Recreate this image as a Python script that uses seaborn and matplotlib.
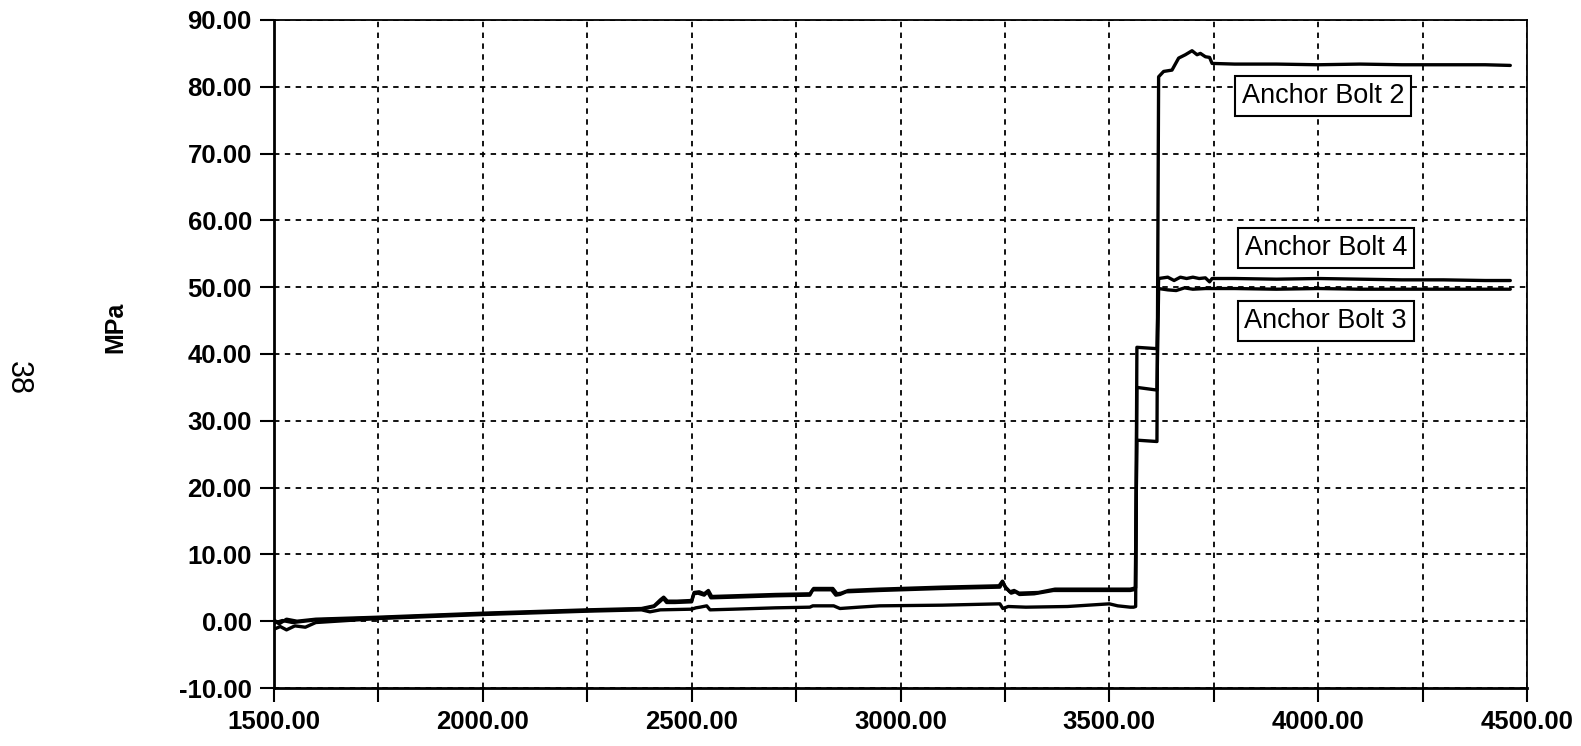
import numpy as np
import pandas as pd
import matplotlib
matplotlib.use("Agg")
import matplotlib.pyplot as plt
import seaborn as sns
from matplotlib.ticker import MultipleLocator, FuncFormatter

# ---- data ----
bolt2_x = [1500, 1520, 1545, 1600, 1750, 2000, 2250, 2380, 2410, 2425, 2432, 2440, 2460,
           2500, 2505, 2515, 2530, 2538, 2546, 2600, 2700, 2783, 2790, 2835, 2845, 2855,
           2870, 2950, 3100, 3238, 3245, 3252, 3265, 3275, 3285, 3320, 3366, 3450, 3550,
           3558, 3562, 3566, 3614, 3618, 3630, 3650, 3666, 3682, 3698, 3710, 3718, 3730,
           3740, 3746, 3800, 3900, 4000, 4100, 4200, 4300, 4400, 4460]
bolt2_y = [-0.3, 0.1, -0.2, 0.2, 0.5, 1.1, 1.6, 1.8, 2.2, 3.0, 3.4, 2.8, 2.8,
           2.9, 4.1, 4.2, 3.9, 4.4, 3.5, 3.6, 3.8, 3.9, 4.7, 4.7, 3.9, 4.0,
           4.4, 4.6, 4.9, 5.1, 5.9, 5.0, 4.2, 4.4, 4.0, 4.1, 4.6, 4.6, 4.6,
           4.7, 4.8, 27.1, 26.9, 81.5, 82.3, 82.5, 84.3, 84.8, 85.4, 84.8, 85.0, 84.5,
           84.4, 83.5, 83.4, 83.4, 83.3, 83.4, 83.3, 83.3, 83.3, 83.2]

bolt4_x = [1500, 1512, 1530, 1555, 1600, 1750, 2000, 2250, 2380, 2410, 2425, 2433, 2442,
           2465, 2500, 2506, 2518, 2530, 2540, 2548, 2600, 2700, 2783, 2792, 2838, 2848,
           2858, 2875, 2950, 3100, 3236, 3244, 3250, 3262, 3272, 3284, 3330, 3370, 3450,
           3550, 3557, 3563, 3566, 3614, 3618, 3640, 3655, 3670, 3685, 3700, 3715, 3730,
           3740, 3746, 3800, 3900, 4000, 4100, 4200, 4300, 4400, 4460]
bolt4_y = [0.2, -0.4, 0.3, 0.0, 0.3, 0.6, 1.2, 1.7, 1.9, 2.3, 3.2, 3.6, 3.0,
           3.0, 3.1, 4.3, 4.4, 4.1, 4.6, 3.7, 3.8, 4.0, 4.1, 4.9, 4.9, 4.1,
           4.2, 4.6, 4.8, 5.1, 5.3, 6.0, 5.2, 4.4, 4.6, 4.2, 4.3, 4.8, 4.8,
           4.8, 4.9, 5.0, 41.0, 40.8, 51.3, 51.5, 51.0, 51.5, 51.3, 51.5, 51.3, 51.4,
           50.8, 51.3, 51.3, 51.2, 51.3, 51.2, 51.1, 51.1, 51.0, 51.0]

bolt3_x = [1500, 1515, 1530, 1550, 1575, 1600, 1750, 2000, 2250, 2380, 2400, 2425, 2500,
           2510, 2520, 2536, 2544, 2600, 2700, 2783, 2790, 2840, 2855, 2900, 2950, 3100,
           3238, 3245, 3258, 3300, 3400, 3500, 3520, 3550, 3558, 3563, 3566, 3614, 3618,
           3640, 3660, 3680, 3700, 3730, 3746, 3800, 3900, 4000, 4100, 4200, 4300, 4400,
           4460]
bolt3_y = [-1.2, -0.8, -1.3, -0.7, -0.9, -0.2, 0.4, 1.0, 1.5, 1.7, 1.4, 1.7, 1.8,
           2.0, 2.1, 2.3, 1.7, 1.8, 2.0, 2.1, 2.3, 2.3, 1.9, 2.1, 2.3, 2.4,
           2.6, 1.9, 2.2, 2.1, 2.2, 2.6, 2.3, 2.1, 2.1, 2.2, 35.0, 34.6, 49.8,
           49.6, 49.5, 49.9, 49.7, 49.8, 49.8, 49.8, 49.7, 49.8, 49.7, 49.7, 49.7, 49.7,
           49.7]

series_names = ["Anchor Bolt 2", "Anchor Bolt 4", "Anchor Bolt 3"]
label_x = [4012, 4019, 4018]
label_y = [78.6, 55.9, 44.9]

x_ticks = [1500, 2000, 2500, 3000, 3500, 4000, 4500]
y_ticks = [-10, 0, 10, 20, 30, 40, 50, 60, 70, 80, 90]

# ---- build long-form table ----
frames = []
for name, xs, ys in zip(series_names, [bolt2_x, bolt4_x, bolt3_x], [bolt2_y, bolt4_y, bolt3_y]):
    frames.append(pd.DataFrame({"time": xs, "MPa": ys, "series": name}))
df = pd.concat(frames, ignore_index=True)

sns.set_style("ticks")
plt.rcParams["font.family"] = ["Liberation Sans", "DejaVu Sans"]
plt.rcParams["text.color"] = "black"
plt.rcParams["axes.labelcolor"] = "black"
plt.rcParams["xtick.color"] = "black"
plt.rcParams["ytick.color"] = "black"

fig = plt.figure(figsize=(15.81, 7.46), dpi=100)
ax = fig.add_axes([274 / 1581, 1 - 688 / 746, (1527 - 274) / 1581, (688 - 20) / 746])

sns.lineplot(data=df, x="time", y="MPa", hue="series", units="series", estimator=None,
             sort=False, palette=["black"] * 3, linewidth=2.4, legend=False, ax=ax)

ax.set_xlim(1500, 4500)
ax.set_ylim(-10, 90)
ax.xaxis.set_major_locator(plt.FixedLocator(x_ticks))
ax.xaxis.set_minor_locator(MultipleLocator(250))
ax.yaxis.set_major_locator(plt.FixedLocator(y_ticks))
fmt = FuncFormatter(lambda v, p: f"{v:.2f}")
ax.xaxis.set_major_formatter(fmt)
ax.yaxis.set_major_formatter(fmt)

ax.grid(True, which="both", color="black", linestyle=(0, (3, 3)), linewidth=1.3)
ax.set_axisbelow(True)

ax.tick_params(axis="both", which="both", direction="out", length=10, width=1.5,
               color="black", labelcolor="black")
ax.tick_params(axis="both", which="major", labelsize=18.5, pad=6)
for lab in ax.get_xticklabels() + ax.get_yticklabels():
    lab.set_fontweight("bold")

for side in ["left", "bottom"]:
    ax.spines[side].set_linewidth(2)
    ax.spines[side].set_color("black")
for side in ["top", "right"]:
    ax.spines[side].set_visible(True)
    ax.spines[side].set_linewidth(1.3)
    ax.spines[side].set_color("black")

ax.set_xlabel("")
ax.set_ylabel("MPa", fontsize=18, fontweight="bold", color="black")
ax.yaxis.set_label_coords(-0.1173, 0.540)

for name, lx, ly in zip(series_names, label_x, label_y):
    ax.text(lx, ly, name, fontsize=19.5, ha="center", va="center", color="black",
            bbox=dict(boxstyle="square,pad=0.25", facecolor="white", edgecolor="black", linewidth=1.5))

fig.text(18 / 1581, 1 - 378 / 746, "38", rotation=270, fontsize=22, ha="center", va="center",
         color="black")

fig.savefig("out.png", dpi=100)
